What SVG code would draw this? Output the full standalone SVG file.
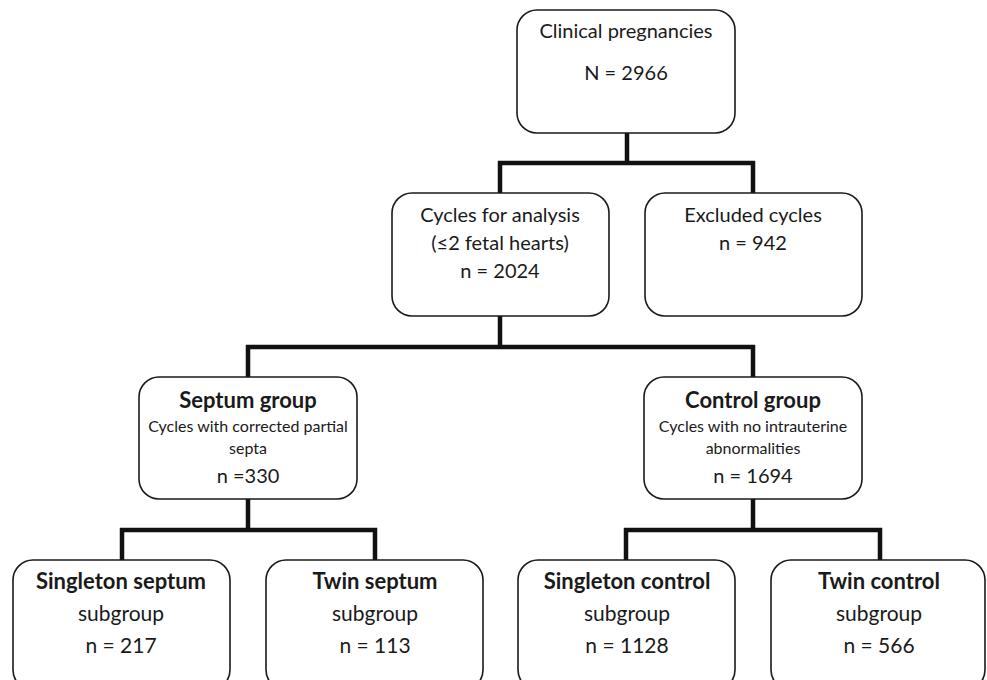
<svg xmlns="http://www.w3.org/2000/svg" width="987" height="680" viewBox="0 0 987 680">
<style>
.box{fill:#fff;stroke:#1a1a1a;stroke-width:1.6}
.conn{fill:none;stroke:#111;stroke-width:4.5;stroke-linejoin:miter;stroke-linecap:square}
text{font-family:Lato,"Open Sans","Liberation Sans",sans-serif;fill:#1a1a1a;text-anchor:middle}
.t{font-size:20px}
.u{font-size:21px}
.b{font-size:22px;font-weight:bold}
.s{font-size:16px}
</style>
<rect width="987" height="680" fill="#fff"/>
<g id="connectors">
<path class="conn" d="M627,134 V163 M500,163 H753 M500,163 V192 M753,163 V192"/>
<path class="conn" d="M500,317 V347 M248,347 H753 M248,347 V376 M753,347 V376"/>
<path class="conn" d="M248,500 V530 M122,530 H375 M122,530 V559 M375,530 V559"/>
<path class="conn" d="M753,500 V530 M626,530 H880 M626,530 V559 M880,530 V559"/>
</g>
<g id="clinical">
<rect class="box" x="517" y="10" width="218" height="123" rx="20"/>
<text class="t" x="626" y="38">Clinical pregnancies</text>
<text class="t" x="626" y="80">N = 2966</text>
</g>
<g id="cycles">
<rect class="box" x="392" y="193" width="217" height="123" rx="20"/>
<text class="t" x="500" y="222">Cycles for analysis</text>
<text class="t" x="500" y="250">(≤2 fetal hearts)</text>
<text class="t" x="500" y="278">n = 2024</text>
</g>
<g id="excluded">
<rect class="box" x="645" y="193" width="217" height="123" rx="20"/>
<text class="t" x="753" y="222">Excluded cycles</text>
<text class="t" x="753" y="250">n = 942</text>
</g>
<g id="septum">
<rect class="box" x="139" y="377" width="218" height="122" rx="20"/>
<text class="b" x="248" y="408">Septum group</text>
<text class="s" x="248" y="432">Cycles with corrected partial</text>
<text class="s" x="248" y="454">septa</text>
<text class="t" x="248" y="483">n =330</text>
</g>
<g id="control">
<rect class="box" x="644" y="377" width="218" height="122" rx="20"/>
<text class="b" x="753" y="408">Control group</text>
<text class="s" x="753" y="432">Cycles with no intrauterine</text>
<text class="s" x="753" y="454">abnormalities</text>
<text class="t" x="753" y="483">n = 1694</text>
</g>
<g id="singleton-septum">
<rect class="box" x="13" y="560" width="217" height="130" rx="20"/>
<text class="b" x="121" y="589">Singleton septum</text>
<text class="u" x="121" y="621">subgroup</text>
<text class="u" x="121" y="653">n = 217</text>
</g>
<g id="twin-septum">
<rect class="box" x="266" y="560" width="217" height="130" rx="20"/>
<text class="b" x="375" y="589">Twin septum</text>
<text class="u" x="375" y="621">subgroup</text>
<text class="u" x="375" y="653">n = 113</text>
</g>
<g id="singleton-control">
<rect class="box" x="518" y="560" width="217" height="130" rx="20"/>
<text class="b" x="627" y="589">Singleton control</text>
<text class="u" x="627" y="621">subgroup</text>
<text class="u" x="627" y="653">n = 1128</text>
</g>
<g id="twin-control">
<rect class="box" x="771" y="560" width="214" height="130" rx="20"/>
<text class="b" x="879" y="589">Twin control</text>
<text class="u" x="879" y="621">subgroup</text>
<text class="u" x="879" y="653">n = 566</text>
</g>
</svg>
